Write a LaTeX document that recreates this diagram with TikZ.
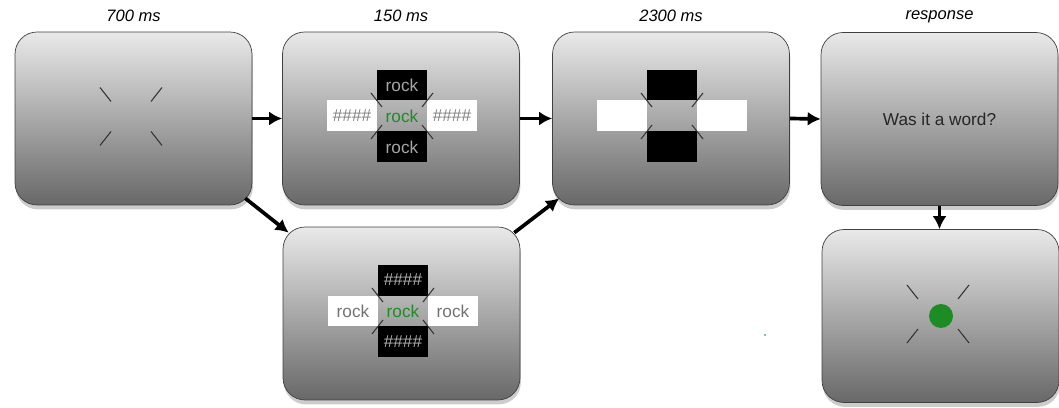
\documentclass[tikz,border=0pt]{standalone}
\usepackage{fontspec}
\setmainfont{Liberation Sans}
\usepackage{tikz}
\usetikzlibrary{calc}
\usetikzlibrary{arrows.meta}
\usetikzlibrary{positioning,shadows}
\definecolor{PanelTop}{RGB}{233,233,233}
\definecolor{PanelBottom}{RGB}{104,104,104}
\definecolor{wordgreen}{RGB}{30,140,36}
% four short strokes round a centre: #2 inner, #3 outer vertical offset
\newcommand{\FixMarks}[3]{%
	\foreach \sx in {-1,1}{\foreach \sy in {-1,1}{%
		\draw[FixLine] (#1) ++({20*\sx},{#2*\sy}) -- ++({11*\sx},{(#3-#2)*\sy});}}}

\begin{document}
\begin{tikzpicture}[
		x=0.02cm, y=-0.02cm,
		Panel/.style={draw=black!75,thin,rounded corners=0.44cm,minimum width=4.74cm,minimum height=3.46cm,
			top color=PanelTop,bottom color=PanelBottom,
			drop shadow={shadow xshift=0.5pt,shadow yshift=-2.5pt,opacity=0.4}},
		Title/.style={font=\itshape\fontsize{9.4}{11}\selectfont,above=2pt of #1},
		Cell/.style={minimum width=1cm,minimum height=0.62cm,inner sep=0pt,outer sep=0pt,
			font=\fontsize{9.8}{11}\selectfont},
		BlackCell/.style={Cell,fill=black},
		WhiteCell/.style={Cell,fill=white},
		FixLine/.style={draw=black!80,line width=0.6pt},
		Flow/.style={-{Latex[length=2.6mm, width=2.8mm]},line width=2.1pt}
		]

		\useasboundingbox (0,0) rectangle (1059,408);

		% panels
		\node[Panel] (fixBox) at (133.5,118.5) {};
		\node[Panel] (primeBox) at (401,118.5) {};
		\node[Panel] (maskBox) at (671,118.5) {};
		\node[Panel,font=\fontsize{9.8}{11}\selectfont,text=black!85] (askBox) at (939.5,119) {Was it a word?};
		\node[Panel] (flankBox) at (401.5,313.5) {};
		\node[Panel] (fbBox) at (940.5,316) {};

		\node[Title=fixBox] (tFix) {700 ms};
		\node[Title=primeBox] (tPrime) {150 ms};
		\node[Title=maskBox] (tMask) {2300 ms};
		\node[Title=askBox] (tAsk) {response};

		% fixation
		\coordinate (cFix) at (131,116.5);
		\FixMarks{cFix}{15}{29}

		% prime with masked flankers
		\node[Cell,text=wordgreen] (pC) at (402,116) {rock};
		\node[BlackCell,text=black!35,above=0pt of pC] (pT) {rock};
		\node[BlackCell,text=black!35,below=0pt of pC] (pB) {rock};
		\node[WhiteCell,text=black!50,left=0pt of pC] (pL) {\#\#\#\#};
		\node[WhiteCell,text=black!50,right=0pt of pC] (pR) {\#\#\#\#};
		\FixMarks{pC}{9}{23}

		% prime with word flankers
		\node[Cell,text=wordgreen] (fC) at (403,311) {rock};
		\node[BlackCell,text=black!30,above=0pt of fC] (fT) {\#\#\#\#};
		\node[BlackCell,text=black!30,below=0pt of fC] (fB) {\#\#\#\#};
		\node[WhiteCell,text=black!55,left=0pt of fC] (fL) {rock};
		\node[WhiteCell,text=black!55,right=0pt of fC] (fR) {rock};
		\FixMarks{fC}{9}{23}

		% mask
		\node[Cell] (mC) at (672,116) {};
		\node[BlackCell,above=0pt of mC] (mT) {};
		\node[BlackCell,below=0pt of mC] (mB) {};
		\node[WhiteCell,left=0pt of mC] (mL) {};
		\node[WhiteCell,right=0pt of mC] (mR) {};
		\FixMarks{mC}{9}{23}

		% feedback
		\coordinate (cFb) at (938,314);
		\FixMarks{cFb}{15}{29}
		\fill[wordgreen] (941,316) circle (0.24cm);
		\fill[wordgreen!70] (765,335) circle (0.6pt);

		% arrows
		\draw[Flow] (fixBox.east) -- (primeBox.west);
		\draw[Flow] (primeBox.east) -- (maskBox.west);
		\draw[Flow] (maskBox.east) -- (askBox.west);
		\draw[Flow] ($(fixBox.south east)+(-7,-7)$) -- ($(flankBox.north west)+(6,6)$);
		\draw[Flow] ($(flankBox.north east)+(-6,6)$) -- ($(maskBox.south west)+(7,-7)$);
		\draw[Flow] (askBox.south) -- (askBox.south |- fbBox.north);

		\end{tikzpicture}
\end{document}
